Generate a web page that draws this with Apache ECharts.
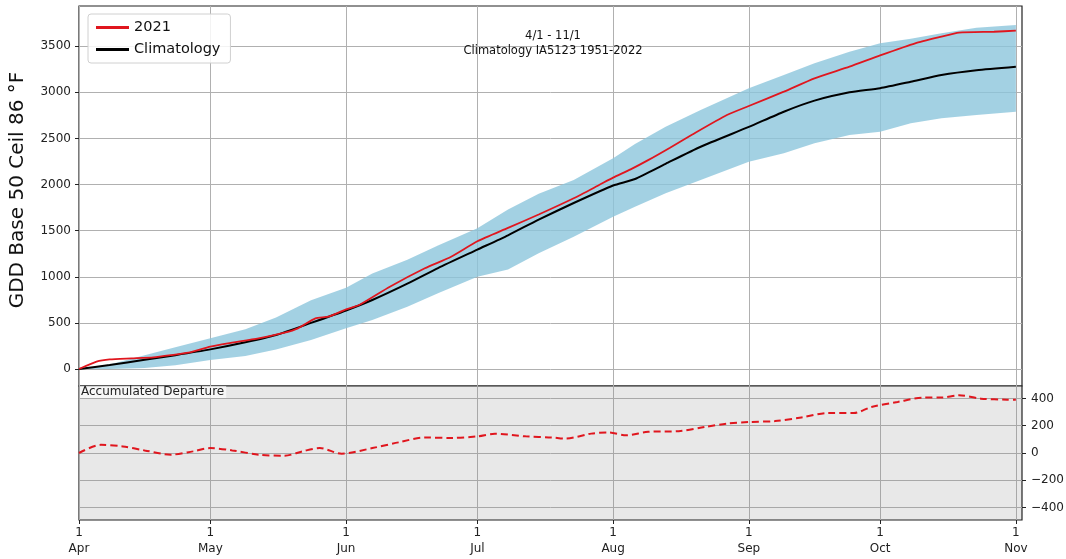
<!DOCTYPE html>
<html>
<head>
<meta charset="utf-8">
<script src="https://cdn.jsdelivr.net/npm/echarts@6/dist/echarts.min.js"></script>
<style>
  html, body { margin: 0; padding: 0; background: #fff; }
  #chart { width: 1066px; height: 559px; }
</style>
</head>
<body>
<div id="chart"></div>
<script>
// x positions are days since Apr 1
const monthDays = [0, 30, 61, 91, 122, 153, 183, 214]
const monthLabels = ['Apr', 'May', 'Jun', 'Jul', 'Aug', 'Sep', 'Oct', 'Nov']

// climatology + range band, sampled along the season
const climDays = [0, 7, 15, 22, 30, 38, 45, 53, 61, 67, 75, 82, 91, 98, 105, 113, 122, 127, 134, 142, 153, 161, 168, 176, 183, 190, 197, 205, 214]
const climGdd = [0, 43, 100, 150, 213, 290, 369, 500, 635, 748, 925, 1095, 1295, 1450, 1620, 1800, 1990, 2060, 2225, 2410, 2625, 2790, 2910, 3000, 3045, 3115, 3188, 3240, 3278]
const bandUpper = [0, 50, 150, 235, 335, 430, 560, 745, 880, 1037, 1185, 1340, 1525, 1730, 1900, 2050, 2284, 2440, 2627, 2808, 3043, 3188, 3314, 3440, 3531, 3580, 3640, 3700, 3730]
const bandLower = [0, 0, 10, 40, 98, 141, 213, 314, 441, 531, 675, 821, 1001, 1080, 1254, 1434, 1651, 1760, 1905, 2049, 2248, 2339, 2447, 2537, 2573, 2664, 2718, 2754, 2790]

// 2021 accumulated GDD
const yearDays = [0, 4, 7, 12, 17, 21, 25, 30, 34, 41, 47, 50, 54, 57, 61, 64, 71, 79, 85, 91, 98, 105, 113, 119, 122, 126, 130, 135, 140, 148, 153, 161, 168, 176, 183, 191, 197, 201, 209, 214]
const yearGdd = [0, 80, 105, 116, 127, 150, 177, 242, 278, 333, 394, 441, 550, 567, 647, 694, 892, 1092, 1218, 1385, 1530, 1675, 1851, 2000, 2075, 2165, 2265, 2400, 2540, 2754, 2852, 3007, 3152, 3278, 3400, 3531, 3603, 3647, 3657, 3668]

// accumulated departure (2021 - climatology)
const depDays = [0, 5, 10, 15, 21, 26, 30, 35, 41, 47, 51, 55, 60, 67, 73, 79, 85, 91, 95, 102, 108, 111, 117, 121, 125, 130, 137, 143, 148, 153, 159, 165, 171, 177, 181, 187, 193, 197, 201, 206, 212, 214]
const depValues = [0, 60, 48, 19, -12, 12, 36, 19, -12, -20, 12, 36, -5, 36, 78, 114, 110, 122, 141, 122, 114, 105, 142, 150, 130, 155, 160, 191, 215, 227, 234, 260, 293, 293, 337, 374, 406, 406, 423, 398, 391, 390]

const topTicks = [0, 500, 1000, 1500, 2000, 2500, 3000, 3500]
const depTicks = [-400, -200, 0, 200, 400]

const zip = (xs, ys) => xs.map((x, i) => [x, ys[i]])
const bandData = climDays.map((d, i) => [d, bandLower[i], bandUpper[i]])

const chart = echarts.init(document.getElementById('chart'), null, { renderer: 'canvas' })

const font = 'DejaVu Sans'
const gridColor = '#b0b0b0'

// fill between lower and upper edge of the climatology range
function renderBand(params, api) {
  if (params.dataIndex !== 0) return null
  const top = bandData.map(d => api.coord([d[0], d[2]]))
  const bottom = bandData.map(d => api.coord([d[0], d[1]])).reverse()
  return {
    type: 'polygon',
    shape: { points: top.concat(bottom) },
    style: { fill: 'rgba(140,198,220,0.8)' }
  }
}

const option = {
  animation: false,
  backgroundColor: '#fff',
  textStyle: { fontFamily: font },
  legend: {
    data: ['2021', 'Climatology'],
    orient: 'vertical',
    left: 88,
    top: 14,
    padding: [5, 10, 5, 8],
    itemGap: 5,
    itemWidth: 33,
    itemHeight: 3,
    icon: 'rect',
    borderColor: '#d0d0d0',
    borderWidth: 1,
    borderRadius: 3,
    backgroundColor: 'rgba(255,255,255,0.85)',
    textStyle: { fontFamily: font, fontSize: 14.5, color: '#111', lineHeight: 17 }
  },
  graphic: [
    {
      type: 'text',
      x: 18,
      y: 190,
      rotation: Math.PI / 2,
      z: 100,
      style: {
        text: 'GDD Base 50 Ceil 86 °F',
        align: 'center',
        verticalAlign: 'middle',
        font: '20px DejaVu Sans',
        fill: '#111'
      }
    },
    {
      type: 'text',
      x: 553,
      y: 29,
      z: 100,
      style: {
        text: '4/1 - 11/1\nClimatology IA5123 1951-2022',
        align: 'center',
        verticalAlign: 'top',
        font: '11.5px DejaVu Sans',
        lineHeight: 15,
        fill: '#111'
      }
    },
    {
      type: 'text',
      x: 80,
      y: 386,
      z: 100,
      style: {
        text: 'Accumulated Departure',
        font: '12px DejaVu Sans',
        fill: '#222',
        backgroundColor: 'rgba(255,255,255,0.65)',
        padding: [0, 2, 0, 1]
      }
    }
  ],
  grid: [
    { left: 79, right: 44, top: 6, height: 380, show: true, borderColor: '#222', borderWidth: 1.2, backgroundColor: '#fff', outerBoundsMode: 'none' },
    { left: 79, right: 44, top: 386, height: 134, show: true, borderColor: '#222', borderWidth: 1.2, backgroundColor: '#e8e8e8', outerBoundsMode: 'none' }
  ],
  xAxis: [
    {
      type: 'value', gridIndex: 0, min: 0, max: 215.4,
      axisLine: { show: false, onZero: false },
      axisTick: { show: false, customValues: monthDays },
      axisLabel: { show: false, customValues: monthDays },
      splitLine: { show: true, lineStyle: { color: gridColor, width: 1 } }
    },
    {
      type: 'value', gridIndex: 1, min: 0, max: 215.4, position: 'bottom',
      axisLine: { show: false, onZero: false },
      axisTick: { show: true, length: 4, customValues: monthDays, lineStyle: { color: '#222' } },
      axisLabel: {
        show: true, customValues: monthDays, margin: 5,
        fontFamily: font, fontSize: 12, color: '#222', lineHeight: 16,
        formatter: v => '1\n' + monthLabels[monthDays.indexOf(v)]
      },
      splitLine: { show: true, lineStyle: { color: '#a8a8a8', width: 1 } }
    }
  ],
  yAxis: [
    {
      type: 'value', gridIndex: 0, min: -184, max: 3936, position: 'left',
      axisLine: { show: false, onZero: false },
      axisTick: { show: true, length: 4, customValues: topTicks, lineStyle: { color: '#222' } },
      axisLabel: { customValues: topTicks, margin: 8, fontFamily: font, fontSize: 12, color: '#222', formatter: v => String(v) },
      splitLine: { show: true, lineStyle: { color: gridColor, width: 1 } }
    },
    {
      type: 'value', gridIndex: 1, min: -491, max: 491, position: 'right',
      axisLine: { show: false, onZero: false },
      axisTick: { show: true, length: 4, customValues: depTicks, lineStyle: { color: '#222' } },
      axisLabel: {
        customValues: depTicks, margin: 9, fontFamily: font, fontSize: 12, color: '#222',
        formatter: v => String(v).replace('-', '\u2212')
      },
      splitLine: { show: true, lineStyle: { color: '#a8a8a8', width: 1 } }
    }
  ],
  series: [
    {
      name: 'band', type: 'custom', xAxisIndex: 0, yAxisIndex: 0,
      renderItem: renderBand,
      encode: { x: 0, y: [1, 2] },
      data: bandData,
      silent: true,
      clip: true,
      z: 1
    },
    {
      name: 'Climatology', type: 'line', xAxisIndex: 0, yAxisIndex: 0,
      showSymbol: false, smooth: 0.2,
      itemStyle: { color: '#000' },
      lineStyle: { color: '#000', width: 2 },
      data: zip(climDays, climGdd),
      z: 3
    },
    {
      name: '2021', type: 'line', xAxisIndex: 0, yAxisIndex: 0,
      showSymbol: false, smooth: 0.2,
      itemStyle: { color: '#e0161e' },
      lineStyle: { color: '#e0161e', width: 1.8 },
      data: zip(yearDays, yearGdd),
      z: 4
    },
    {
      name: 'departure', type: 'line', xAxisIndex: 1, yAxisIndex: 1,
      showSymbol: false, smooth: 0.3,
      lineStyle: { color: '#e0161e', width: 2, type: [7, 4] },
      data: zip(depDays, depValues),
      z: 3
    }
  ]
}

chart.setOption(option)
</script>
</body>
</html>
